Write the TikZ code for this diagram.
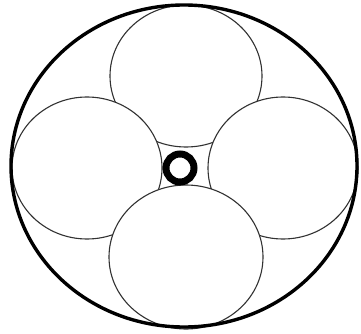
\documentclass[tikz,border=0pt]{standalone}
\usepackage{xcolor}
\usepackage{tikz}
\definecolor{darkgray}{RGB}{50,50,50}

\begin{document}
\begin{tikzpicture}[
				x=1pt, y=-1pt,
				rim/.style={draw=black, line width=3.4pt},
				lobe/.style={draw=darkgray, fill=white, line width=1.1pt},
				hub/.style={draw=black, line width=7pt}
				]
				\useasboundingbox (0,0) rectangle (361,334);
				
				% Centres
				\coordinate (top) at (186,76);
				\coordinate (left) at (87,168);
				\coordinate (right) at (283,168);
				\coordinate (bottom) at (186,257);
				\coordinate (mid) at (180,168);
				
				% Lobes, back to front
				\draw[lobe] (top) ellipse [x radius=76, y radius=71];
				\draw[lobe] (left) ellipse [x radius=75, y radius=71];
				\draw[lobe] (right) ellipse [x radius=75, y radius=71];
				\draw[lobe] (bottom) ellipse [x radius=77, y radius=72];
				
				% Hub and rim
				\draw[hub] (mid) circle [radius=14];
				\draw[rim] (184,166) ellipse [x radius=173, y radius=161];
				
			\end{tikzpicture}
\end{document}
